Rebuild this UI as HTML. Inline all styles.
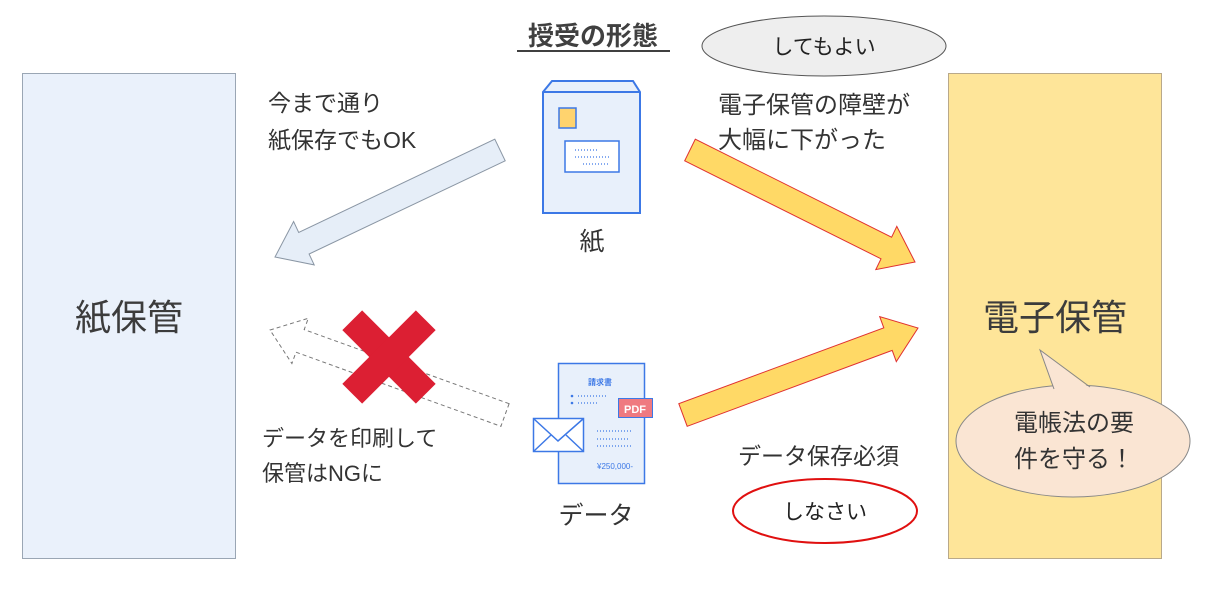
<!DOCTYPE html>
<html><head><meta charset="utf-8"><style>
html,body{margin:0;padding:0;background:#fff;}
svg{display:block;font-family:"Liberation Sans","Noto Sans CJK JP",sans-serif;}
</style></head><body>
<svg width="1207" height="593" viewBox="0 0 1207 593" xmlns="http://www.w3.org/2000/svg">
<rect x="22.5" y="73.5" width="213" height="485" fill="#eaf1fb" stroke="#9aa6b4"/>
<rect x="948.5" y="73.5" width="213" height="485" fill="#fee599" stroke="#b9a98a"/>
<text x="129" y="330" font-size="36" fill="#3c3c3c" text-anchor="middle">紙保管</text>
<text x="1055" y="330" font-size="36" fill="#3c3c3c" text-anchor="middle">電子保管</text>

<text x="593" y="45" font-size="26" font-weight="bold" fill="#404040" text-anchor="middle">授受の形態</text>
<line x1="517" y1="51" x2="670" y2="51" stroke="#404040" stroke-width="2"/>

<ellipse cx="824" cy="46" rx="122" ry="30" fill="#eeeeee" stroke="#555"/>
<text x="824" y="54" font-size="21" fill="#222" text-anchor="middle">してもよい</text>
<ellipse cx="825" cy="511" rx="92" ry="32" fill="#fff" stroke="#e01010" stroke-width="2"/>
<text x="825" y="519" font-size="21" fill="#222" text-anchor="middle">しなさい</text>

<g fill="#333">
<text x="268" y="111" font-size="23">今まで通り</text>
<text x="268" y="148" font-size="23">紙保存でもOK</text>
<text x="718" y="113" font-size="24">電子保管の障壁が</text>
<text x="718" y="148" font-size="24">大幅に下がった</text>
<text x="262" y="446" font-size="22">データを印刷して</text>
<text x="262" y="481" font-size="22">保管はNGに</text>
<text x="738" y="464" font-size="23">データ保存必須</text>
</g>

<polygon points="505.2,160.8 309.1,254 314.2,264.9 275,257 293.6,221.5 298.7,232.4 494.8,139.2" fill="#e6eef8" stroke="#8a96a4" stroke-width="1"/>
<polygon points="684.7,160.8 881,258.8 875.8,269.6 915,262 896.8,226.4 891.6,237.2 695.3,139.2" fill="#ffd966" stroke="#e03030" stroke-width="1"/>
<polygon points="687.2,426.3 892.2,350.4 896.3,361.6 918,328 879.7,316.6 883.8,327.8 678.8,403.7" fill="#ffd966" stroke="#e03030" stroke-width="1"/>
<polygon points="509.1,403.7 304.2,329.6 308.3,318.3 270,330 291.9,363.5 296,352.2 500.9,426.3" fill="#fff" stroke="#777" stroke-width="1" stroke-dasharray="4,3"/>
<g transform="translate(389,357) rotate(45)" fill="#dc1f33">
<rect x="-52" y="-14" width="104" height="28"/>
<rect x="-14" y="-52" width="28" height="104"/>
</g>

<path d="M543,92 L552,81 L633,81 L640,92 L640,213 L543,213 Z" fill="#e8f0fb" stroke="#3c78e6" stroke-width="2"/>
<line x1="543" y1="92" x2="640" y2="92" stroke="#3c78e6" stroke-width="2"/>
<rect x="559" y="108" width="17" height="20" fill="#ffd36e" stroke="#3c78e6" stroke-width="1.5"/>
<rect x="565" y="141" width="54" height="31" fill="#fff" stroke="#3c78e6" stroke-width="1.5"/>
<g stroke="#3c78e6" stroke-width="1.2" stroke-dasharray="1,2">
<line x1="575" y1="150" x2="598" y2="150"/><line x1="575" y1="157" x2="609" y2="157"/><line x1="583" y1="164" x2="609" y2="164"/>
</g>
<text x="592" y="250" font-size="25" fill="#333" text-anchor="middle">紙</text>

<rect x="558.5" y="363.5" width="86" height="120" fill="#e8f0fb" stroke="#3c78e6" stroke-width="1.5"/>
<text x="600" y="385" font-size="8" fill="#3c78e6" text-anchor="middle" font-weight="bold">請求書</text>
<g stroke="#3c78e6" stroke-width="1.2" stroke-dasharray="1,2">
<line x1="578" y1="396" x2="606" y2="396"/><line x1="578" y1="403" x2="598" y2="403"/>
<line x1="597" y1="431" x2="631" y2="431"/><line x1="597" y1="439" x2="628" y2="439"/><line x1="597" y1="446" x2="631" y2="446"/>
</g>
<circle cx="572" cy="396" r="1.3" fill="#3c78e6"/><circle cx="572" cy="403" r="1.3" fill="#3c78e6"/>
<text x="597" y="469" font-size="8" fill="#3c78e6">¥250,000-</text>
<rect x="618.5" y="398.5" width="34" height="19" fill="#ef7a80" stroke="#3c78e6" stroke-width="1"/>
<text x="635" y="413" font-size="11" fill="#fff" text-anchor="middle" font-weight="bold">PDF</text>
<rect x="533.5" y="418.5" width="50" height="33" fill="#fff" stroke="#3c78e6" stroke-width="1.5"/>
<polyline points="534,419 558,441 583,419" fill="none" stroke="#3c78e6" stroke-width="1.5"/>
<line x1="534" y1="451" x2="551" y2="435" stroke="#3c78e6" stroke-width="1.5"/>
<line x1="583" y1="451" x2="566" y2="435" stroke="#3c78e6" stroke-width="1.5"/>
<text x="596" y="524" font-size="25" fill="#333" text-anchor="middle">データ</text>

<ellipse cx="1073" cy="441" rx="117" ry="56" fill="#fae5d3" stroke="#888"/>
<polygon points="1056,395 1040,350 1095,392" fill="#fae5d3" stroke="none"/>
<polyline points="1054,389 1040,350 1090,387" fill="none" stroke="#888"/>
<text x="1074" y="431" font-size="24" fill="#333" text-anchor="middle">電帳法の要</text>
<text x="1074" y="467" font-size="24" fill="#333" text-anchor="middle">件を守る！</text>
</svg>
</body></html>
